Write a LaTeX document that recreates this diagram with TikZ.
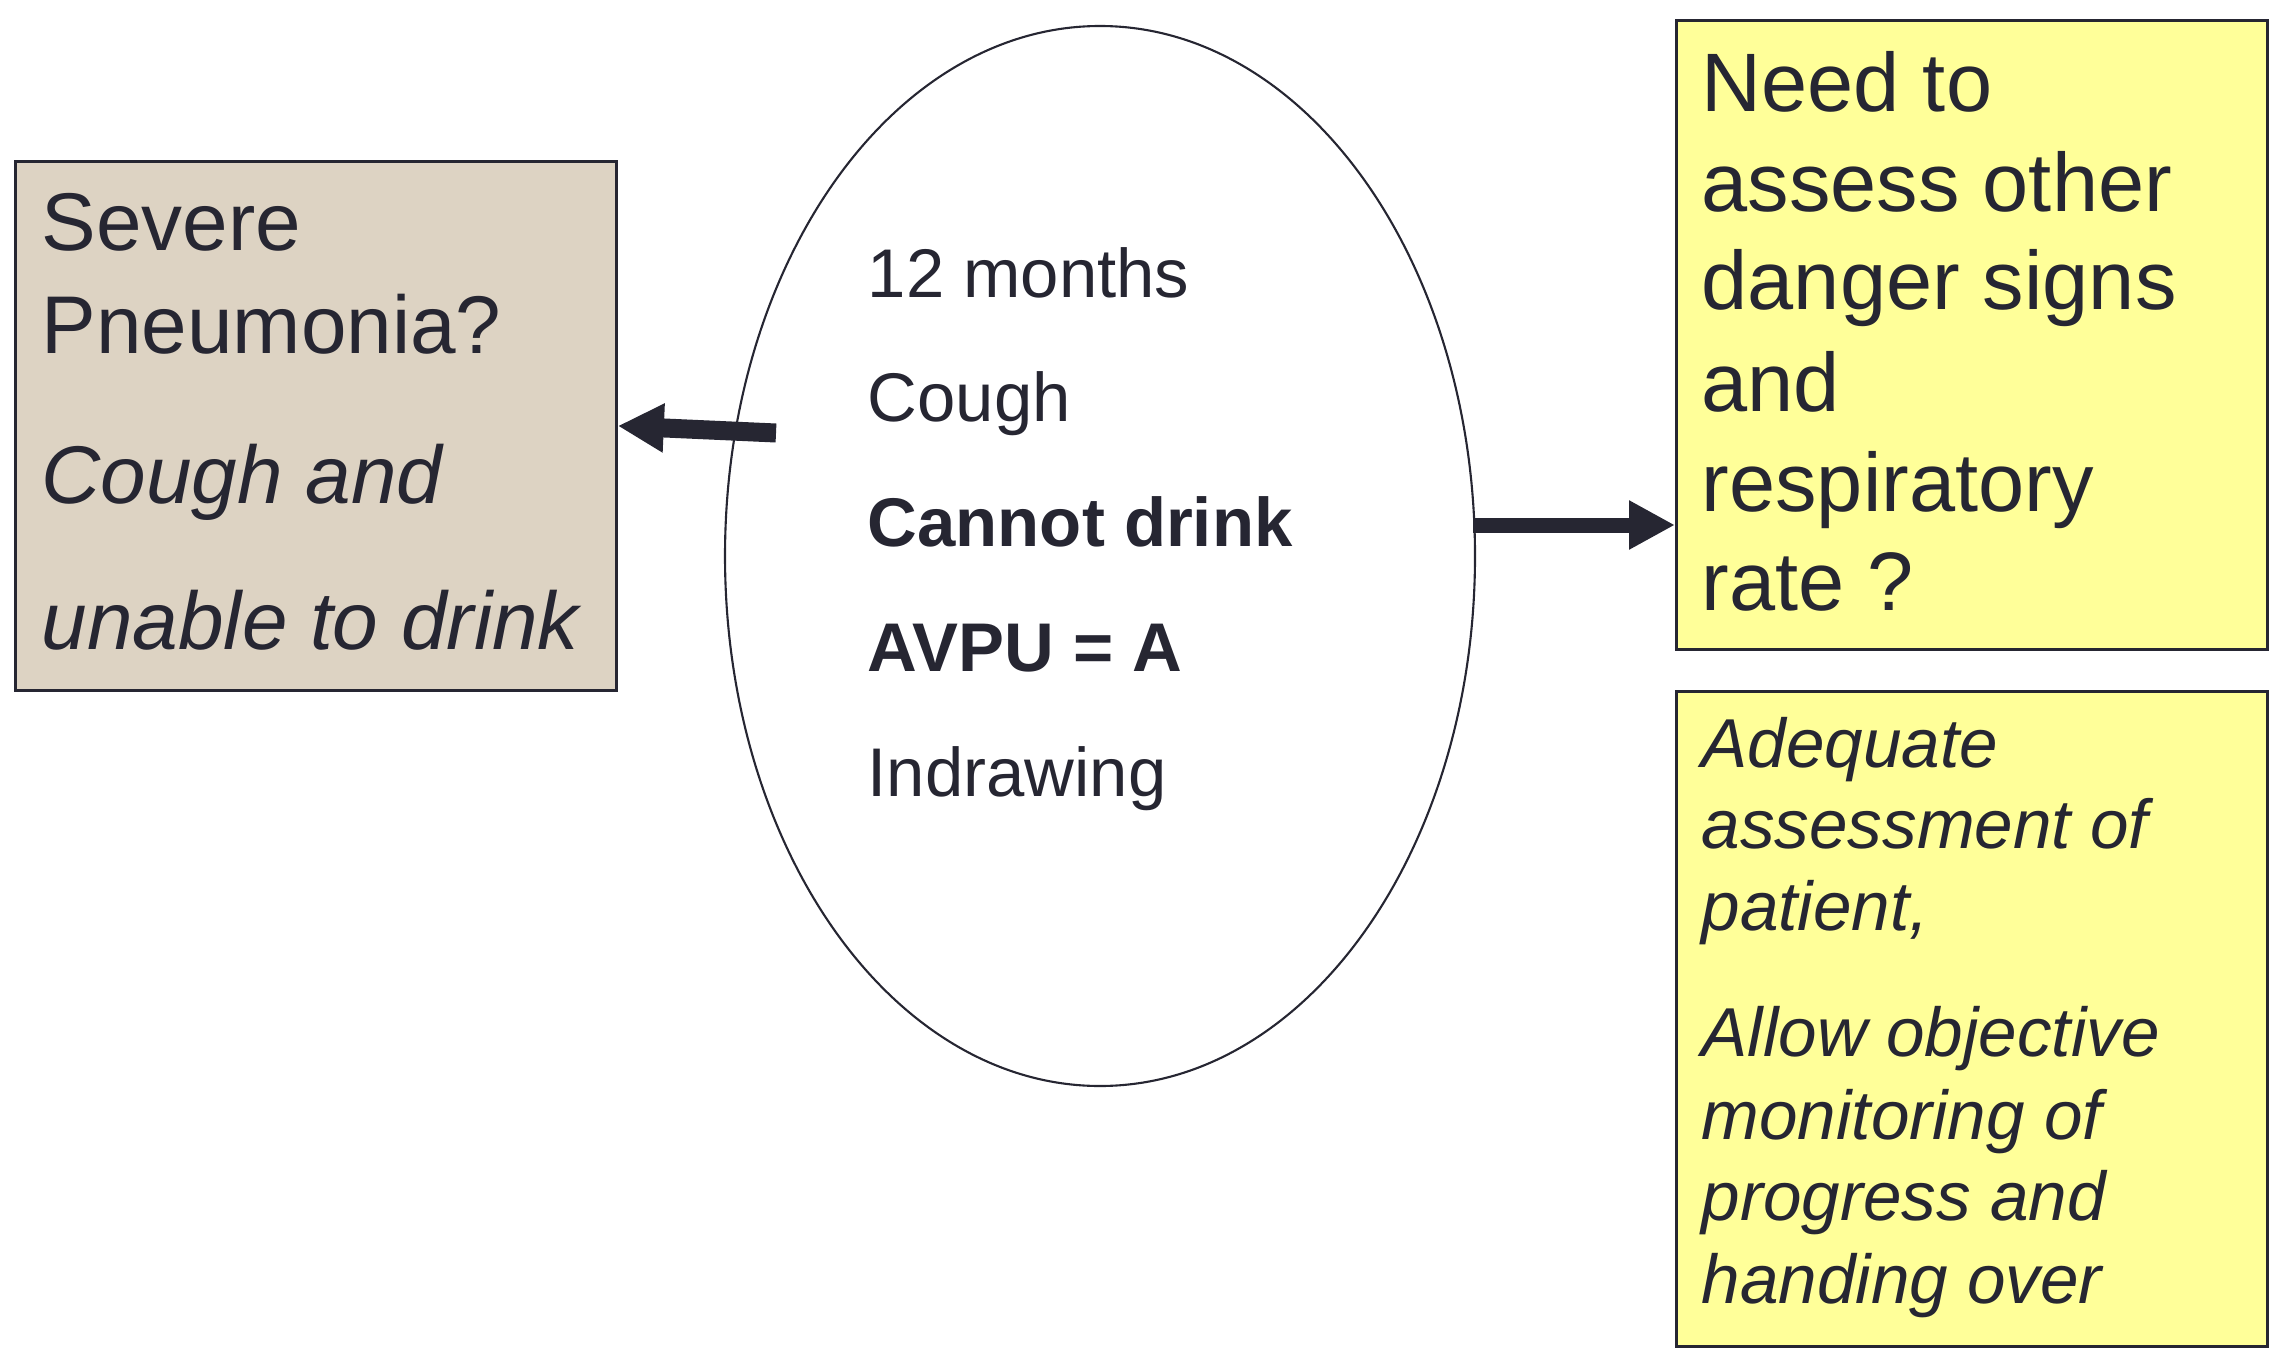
\documentclass[tikz,border=0pt]{standalone}
\usepackage{fontspec}
\setmainfont{Liberation Sans}
\usetikzlibrary{shapes.geometric,arrows.meta,positioning}
\definecolor{inkdark}{RGB}{38,38,50}
\definecolor{tanfill}{RGB}{221,211,195}
\definecolor{notefill}{RGB}{255,255,153}
\begin{document}
\begin{tikzpicture}[
    box/.style={draw=inkdark, line width=0.8pt, inner sep=0pt, anchor=north west},
    txtline/.style={anchor=base west, inner sep=0pt, text=inkdark},
    fatarrow/.style={draw=inkdark, line width=#1, -{Triangle[length=0.46cm,width=0.46cm]}}]
    \useasboundingbox (0,0) rectangle (22.78,-13.57);
    % boxes
    \node[box, fill=tanfill, minimum width=6.01cm, minimum height=5.29cm] (sev) at (0.14,-1.60) {};
    \node[box, fill=notefill, minimum width=5.91cm, minimum height=6.29cm] (need) at (16.75,-0.19) {};
    \node[box, fill=notefill, minimum width=5.91cm, minimum height=6.55cm] (why) at (16.75,-6.90) {};
    % ellipse
    \node[ellipse, draw=inkdark, line width=0.6pt, minimum width=7.50cm, minimum height=10.60cm] (ell) at (11.00,-5.56) {};
    % left box text
    \foreach \y/\txt [count=\i] in {2.51/Severe, 3.53/Pneumonia?, 5.03/\itshape Cough and, 6.49/\itshape unable to drink}
        \node[txtline, font=\fontsize{23.3}{28}\selectfont] (sev-\i) at (0.41,-\y) {\txt};
    % ellipse text
    \foreach \y/\txt [count=\i] in {2.98/12 months, 4.21/Cough, 5.46/\bfseries Cannot drink, 6.71/\bfseries AVPU = A, 7.96/Indrawing}
        \node[txtline, font=\fontsize{19.6}{24}\selectfont] (ell-\i) at (8.67,-\y) {\txt};
    % right top text
    \foreach \y/\txt [count=\i] in {1.12/Need to, 2.11/assess other, 3.09/danger signs, 4.11/and, 5.11/respiratory, 6.10/rate ?}
        \node[txtline, font=\fontsize{23.6}{28}\selectfont] (need-\i) at (17.01,-\y) {\txt};
    % right bottom text
    \foreach \y/\txt [count=\i] in {7.67/Adequate, 8.48/assessment of, 9.30/{patient,}, 10.56/Allow objective, 11.39/monitoring of, 12.20/progress and, 13.03/handing over}
        \node[txtline, font=\fontsize{19.7}{24}\selectfont\itshape] (why-\i) at (17.01,-\y) {\txt};
    % arrows
    \coordinate (lefttail) at (7.76,-4.33);
    \coordinate (righttail) at (14.73,-5.25);
    \draw[fatarrow=0.19cm] (lefttail) -- (sev.east);
    \draw[fatarrow=0.15cm] (righttail) -- (righttail -| need.west);
\end{tikzpicture}
\end{document}
